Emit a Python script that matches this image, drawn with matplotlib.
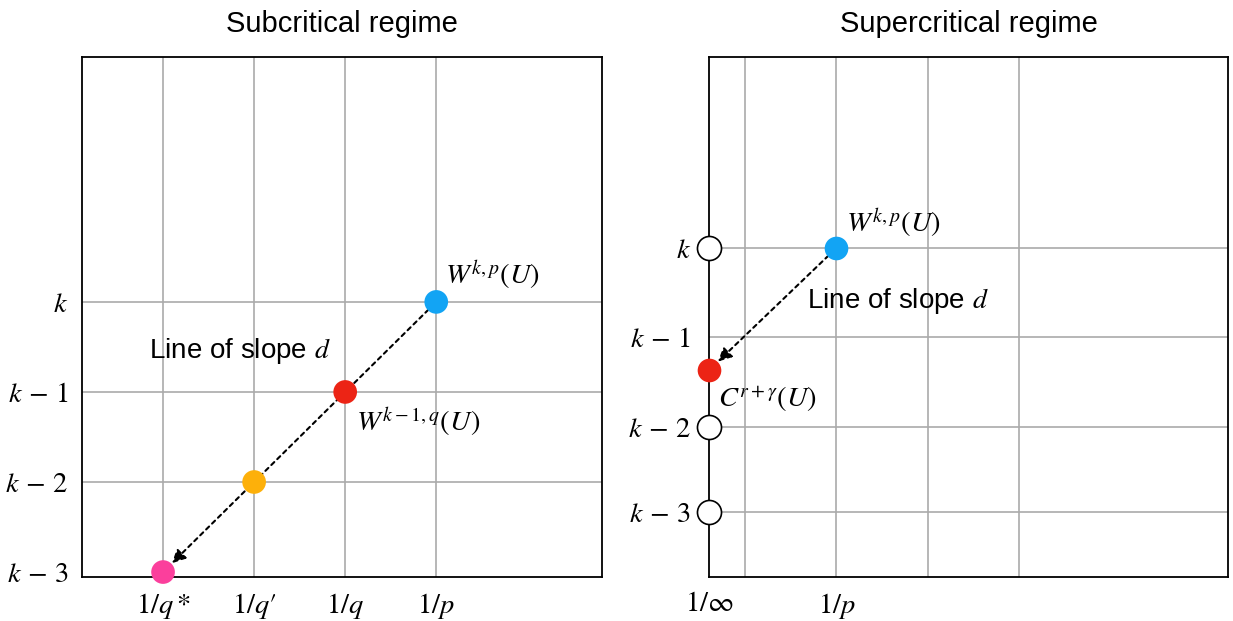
import matplotlib
matplotlib.use("Agg")
import matplotlib.pyplot as plt

plt.rcParams['font.family'] = ['Liberation Sans', 'DejaVu Sans']
plt.rcParams['mathtext.fontset'] = 'stix'

# subcritical panel
sub_x = [1, 2, 3, 4]
sub_y = [0, 1, 2, 3]
sub_colors = ['#fb3f9c', '#fdb00a', '#ec2415', '#12a4f4']
sub_xlabels = ['$1/q*$', '$1/q′$', '$1/q$', '$1/p$']
sub_ylabels = [r'$k\,-\,3$', r'$k\,-\,2$', r'$k\,-\,1$', '$k$']

# supercritical panel
sup_grid_x = [0.4, 1.4, 2.4, 3.4]
sup_xticks = [0, 1.4]
sup_xlabels = [r'$1/\infty$', '$1/p$']
sup_yticks = [0, 0.97, 1.99, 3.0]
sup_ylabels = [r'$k\,-\,3$', r'$k\,-\,2$', r'$k\,-\,1$', '$k$']
sup_open = [0, 0.97, 3.0]
sup_blue = (1.4, 3.0)
sup_red = (0, 1.61)

grid_c = '#aaaaaa'
fs_math = 20.5
fs_text = 21

fig = plt.figure(figsize=(12.33, 6.21), dpi=100)
ax1 = fig.add_axes([82 / 1233, 44 / 621, 520 / 1233, 520 / 621])
ax2 = fig.add_axes([709 / 1233, 44 / 621, 519 / 1233, 520 / 621])

# ---- left
ax1.set_xlim(0.11, 5.82)
ax1.set_ylim(-0.055, 5.72)
for x in sub_x:
    ax1.axvline(x, color=grid_c, lw=1.2, zorder=0)
for y in sub_y[1:]:
    ax1.axhline(y, color=grid_c, lw=1.2, zorder=0)
ax1.set_xticks(sub_x)
ax1.set_xticklabels(sub_xlabels, fontsize=fs_math)
ax1.set_yticks(sub_y)
ax1.set_yticklabels(sub_ylabels, fontsize=fs_math)
ax1.tick_params(length=0, pad=10)

ax1.annotate('', xy=(sub_x[0], sub_y[0]), xytext=(sub_x[-1], sub_y[-1]),
             arrowprops=dict(arrowstyle='-|>', linestyle=(0, (2, 2)), lw=1.5,
                             color='black', mutation_scale=20, shrinkA=8, shrinkB=9),
             zorder=2)
ax1.scatter(sub_x, sub_y, s=290, c=sub_colors, zorder=3, clip_on=False, linewidths=0)

ax1.text(4.1, 3.1, '$W^{k,p}(U)$', fontsize=fs_math, ha='left', va='bottom')
ax1.text(3.12, 1.85, '$W^{k-1,q}(U)$', fontsize=fs_math, ha='left', va='top')
ax1.text(0.85, 2.45, 'Line of slope $d$', fontsize=fs_text - 1, ha='left', va='center')
ax1.set_title('Subcritical regime', fontsize=fs_text, pad=18)

for s in ax1.spines.values():
    s.set_linewidth(1.3)

# ---- right
ax2.set_xlim(0, 5.7)
ax2.set_ylim(-0.74, 5.17)
for x in sup_grid_x:
    ax2.axvline(x, color=grid_c, lw=1.2, zorder=0)
for y in sup_yticks:
    ax2.axhline(y, color=grid_c, lw=1.2, zorder=0)
ax2.set_xticks(sup_xticks)
ax2.set_xticklabels(sup_xlabels, fontsize=fs_math)
ax2.set_yticks(sup_yticks)
ax2.set_yticklabels(sup_ylabels, fontsize=fs_math)
ax2.tick_params(length=0, pad=10)
ax2.tick_params(axis='y', pad=13)

ax2.annotate('', xy=sup_red, xytext=sup_blue,
             arrowprops=dict(arrowstyle='-|>', linestyle=(0, (2, 2)), lw=1.5,
                             color='black', mutation_scale=20, shrinkA=8, shrinkB=9),
             zorder=2)
ax2.scatter([0] * len(sup_open), sup_open, s=300, facecolors='white',
            edgecolors='black', linewidths=1.2, zorder=4, clip_on=False)
ax2.scatter([sup_blue[0]], [sup_blue[1]], s=290, c='#12a4f4', zorder=3, linewidths=0)
ax2.scatter([sup_red[0]], [sup_red[1]], s=290, c='#ec2415', zorder=4,
            linewidths=0, clip_on=False)

ax2.text(1.5, 3.08, '$W^{k,p}(U)$', fontsize=fs_math, ha='left', va='bottom')
ax2.text(0.1, 1.45, r'$C^{r+\gamma}(U)$', fontsize=fs_math, ha='left', va='top')
ax2.text(1.08, 2.4, 'Line of slope $d$', fontsize=fs_text - 1, ha='left', va='center')
ax2.set_title('Supercritical regime', fontsize=fs_text, pad=18)

for s in ax2.spines.values():
    s.set_linewidth(1.3)

fig.savefig('out.png', dpi=100)
